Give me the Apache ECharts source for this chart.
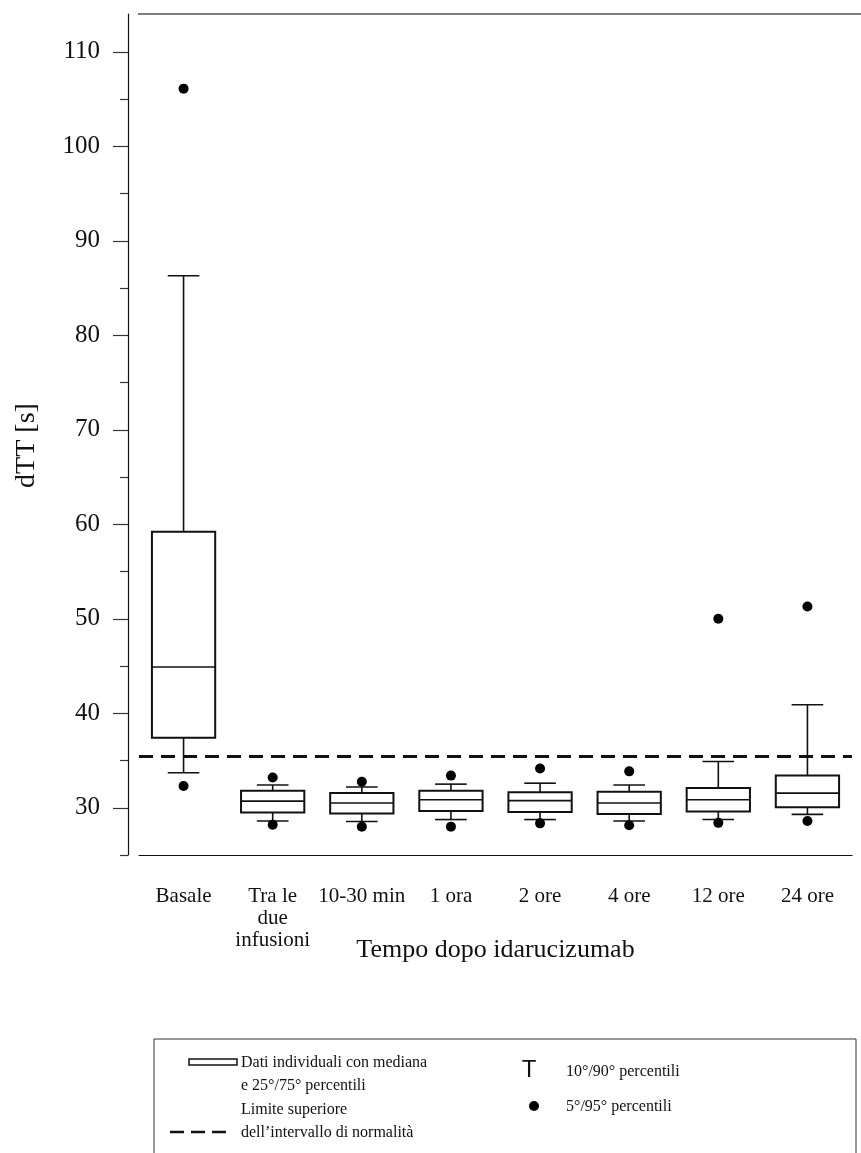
<!DOCTYPE html>
<html>
<head>
<meta charset="utf-8">
<script src="https://cdn.jsdelivr.net/npm/echarts@6/dist/echarts.min.js"></script>
<style>
html,body{margin:0;padding:0;background:#fff;}
#chart{width:861px;height:1153px;}
</style>
</head>
<body>
<div id="chart"></div>
<script>
//categorie
var categories = ['Basale', 'Tra le\ndue\ninfusioni', '10-30 min', '1 ora', '2 ore', '4 ore', '12 ore', '24 ore'];
//percentili
var p5  = [32.3, 28.2, 28.0, 28.0, 28.35, 28.15, 28.4, 28.6];
var p10 = [33.7, 28.6, 28.55, 28.75, 28.75, 28.6, 28.75, 29.3];
var p25 = [37.4, 29.5, 29.4, 29.65, 29.55, 29.35, 29.6, 30.05];
var med = [44.9, 30.7, 30.5, 30.85, 30.75, 30.5, 30.85, 31.55];
var p75 = [59.2, 31.8, 31.55, 31.8, 31.65, 31.7, 32.1, 33.4];
var p90 = [86.3, 32.4, 32.2, 32.5, 32.6, 32.4, 34.9, 40.9];
var p95 = [106.1, 33.2, 32.75, 33.4, 34.15, 33.85, 50.0, 51.3];
//limite superiore normalita
var upperNormal = 35.5;
//tick asse y
var majorTicks = [30, 40, 50, 60, 70, 80, 90, 100, 110];
var minorTicks = [25, 35, 45, 55, 65, 75, 85, 95, 105];

var serif = '"Liberation Serif", "DejaVu Serif", serif';
var legendFont = '16px ' + serif;

var boxData = [];
var dotData = [];
for (var i = 0; i < categories.length; i++) {
    boxData.push([i, p10[i], p25[i], med[i], p75[i], p90[i]]);
    dotData.push([i, p5[i]]);
    dotData.push([i, p95[i]]);
}

//box con baffi corti (10/90)
function renderBox(params, api) {
    var x = api.value(0);
    var w = api.size([1, 0])[0] * 0.71;
    var cap = w / 2;
    var lo = api.coord([x, api.value(1)]);
    var q1 = api.coord([x, api.value(2)]);
    var md = api.coord([x, api.value(3)]);
    var q3 = api.coord([x, api.value(4)]);
    var hi = api.coord([x, api.value(5)]);
    var cx = lo[0];
    var st = {stroke: '#111', lineWidth: 1.6, fill: null};
    return {
        type: 'group',
        children: [
            {type: 'line', shape: {x1: cx, y1: q3[1], x2: cx, y2: hi[1]}, style: st},
            {type: 'line', shape: {x1: cx, y1: q1[1], x2: cx, y2: lo[1]}, style: st},
            {type: 'line', shape: {x1: cx - cap / 2, y1: hi[1], x2: cx + cap / 2, y2: hi[1]}, style: st},
            {type: 'line', shape: {x1: cx - cap / 2, y1: lo[1], x2: cx + cap / 2, y2: lo[1]}, style: st},
            {type: 'rect', shape: {x: cx - w / 2, y: q3[1], width: w, height: q1[1] - q3[1]},
                style: {stroke: '#111', lineWidth: 2, fill: '#fff'}},
            {type: 'line', shape: {x1: cx - w / 2, y1: md[1], x2: cx + w / 2, y2: md[1]}, style: st}
        ]
    };
}

var myChart = echarts.init(document.getElementById('chart'));
myChart.setOption({
    animation: false,
    backgroundColor: '#fff',
    grid: {left: 139, right: 9, top: 14, bottom: 298, outerBoundsMode: 'none'},
    xAxis: {
        type: 'category',
        data: categories,
        boundaryGap: true,
        axisLine: {lineStyle: {color: '#111', width: 1.2}},
        axisTick: {alignWithLabel: true, length: 15, lineStyle: {color: '#333', width: 1.2}},
        axisLabel: {
            interval: 0, margin: 30, fontSize: 21, lineHeight: 22,
            fontFamily: serif, color: '#111'
        },
        name: 'Tempo dopo idarucizumab',
        nameLocation: 'middle',
        nameGap: 82,
        nameMoveOverlap: false,
        nameTextStyle: {fontSize: 26, fontFamily: serif, color: '#111'}
    },
    yAxis: [{
        type: 'value',
        min: 25,
        max: 114,
        offset: 11,
        position: 'left',
        axisLine: {show: true, lineStyle: {color: '#111', width: 1.2}},
        axisTick: {show: true, length: 15, customValues: majorTicks, lineStyle: {color: '#333', width: 1.2}},
        axisLabel: {customValues: majorTicks, margin: 28, fontSize: 25, fontFamily: serif, color: '#111'},
        splitLine: {show: false},
        name: 'dTT [s]',
        nameLocation: 'middle',
        nameGap: 87,
        nameMoveOverlap: false,
        nameTextStyle: {fontSize: 28, fontFamily: serif, color: '#111', padding: [0, 22, 0, 0]}
    }, {
        type: 'value',
        min: 25,
        max: 114,
        offset: 11,
        position: 'left',
        axisLine: {show: false},
        axisTick: {show: true, length: 8, customValues: minorTicks, lineStyle: {color: '#333', width: 1.2}},
        axisLabel: {show: false},
        splitLine: {show: false}
    }],
    series: [{
        type: 'custom',
        name: 'box',
        renderItem: renderBox,
        encode: {x: 0, y: [1, 2, 3, 4, 5]},
        data: boxData,
        z: 3,
        markLine: {
            silent: true,
            symbol: 'none',
            label: {show: false},
            lineStyle: {color: '#111', width: 3, type: [14, 8]},
            data: [{yAxis: upperNormal}]
        }
    }, {
        type: 'scatter',
        name: 'dots',
        data: dotData,
        symbol: 'circle',
        symbolSize: 10,
        itemStyle: {color: '#000', opacity: 1},
        z: 4
    }],
    graphic: [
        {type: 'line', shape: {x1: 138, y1: 14, x2: 861, y2: 14}, style: {stroke: '#555', lineWidth: 1.5}},
        //legenda
        {type: 'rect', shape: {x: 154, y: 1039, width: 702, height: 140}, style: {stroke: '#333', lineWidth: 1, fill: null}},
        {type: 'rect', shape: {x: 189, y: 1059, width: 48, height: 6}, style: {stroke: '#111', lineWidth: 1.5, fill: '#fff'}},
        {type: 'text', x: 241, y: 1063, style: {text: 'Dati individuali con mediana', font: legendFont, fill: '#111', verticalAlign: 'middle'}},
        {type: 'text', x: 241, y: 1086, style: {text: 'e 25°/75° percentili', font: legendFont, fill: '#111', verticalAlign: 'middle'}},
        {type: 'line', shape: {x1: 170, y1: 1132, x2: 232, y2: 1132}, style: {stroke: '#111', lineWidth: 2.5, lineDash: [14, 7]}},
        {type: 'text', x: 241, y: 1110, style: {text: 'Limite superiore', font: legendFont, fill: '#111', verticalAlign: 'middle'}},
        {type: 'text', x: 241, y: 1133, style: {text: 'dell\u2019intervallo di normalità', font: legendFont, fill: '#111', verticalAlign: 'middle'}},
        {type: 'text', x: 529, y: 1070, style: {text: 'T', font: '24px "Liberation Sans", Arial, sans-serif', fill: '#111', align: 'center', verticalAlign: 'middle'}},
        {type: 'text', x: 566, y: 1072, style: {text: '10°/90° percentili', font: legendFont, fill: '#111', verticalAlign: 'middle'}},
        {type: 'circle', shape: {cx: 534, cy: 1106, r: 5}, style: {fill: '#000'}},
        {type: 'text', x: 566, y: 1107, style: {text: '5°/95° percentili', font: legendFont, fill: '#111', verticalAlign: 'middle'}}
    ]
});
window.addEventListener('resize', function () {
    myChart.resize();
});
</script>
</body>
</html>
